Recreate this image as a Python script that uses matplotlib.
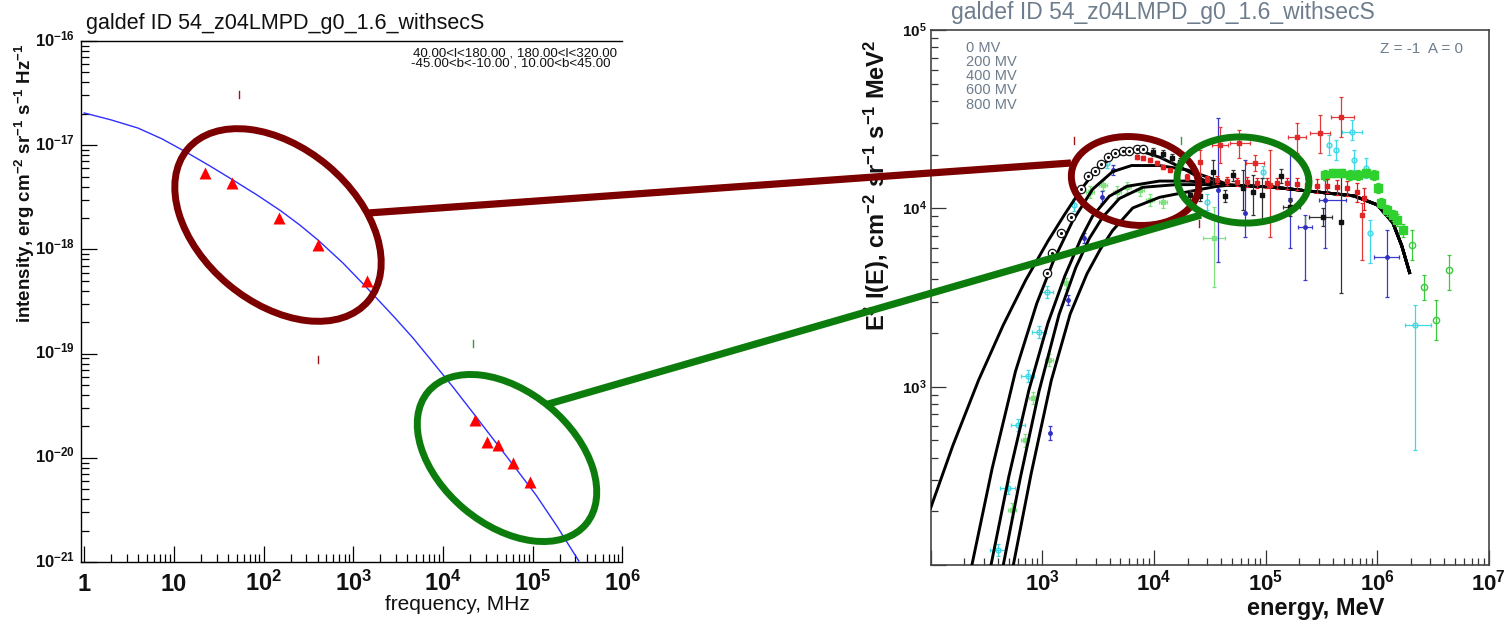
import numpy as np
import matplotlib
matplotlib.use("Agg")
import matplotlib.pyplot as plt
from matplotlib.patches import Ellipse
from matplotlib.ticker import LogLocator, NullFormatter
from matplotlib.transforms import offset_copy

W, H = 1505, 627
plt.rcParams["font.family"] = ["Liberation Sans", "DejaVu Sans"]
plt.rcParams["mathtext.default"] = "regular"

TITLE = "galdef ID 54_z04LMPD_g0_1.6_withsecS"

# ---------------- synchrotron panel ----------------
sync_freq = [22, 45, 150, 408, 1420, 23000, 31000, 41000, 61000, 94000]          # MHz
sync_int = [5.4e-18, 4.3e-18, 2.0e-18, 1.1e-18, 5.0e-19,
            2.3e-20, 1.43e-20, 1.33e-20, 8.9e-21, 5.9e-21]                      # erg cm^-2 sr^-1 s^-1 Hz^-1

model_freq = [1.0, 1.99, 3.98, 7.37, 13.6, 25.3, 45.6, 84.4, 156, 254, 404, 767, 1459,
              2917, 4634, 7345, 12910, 22130, 36980, 61800, 108700, 186200, 327300]
model_int = [2.04e-17, 1.75e-17, 1.46e-17, 1.15e-17, 8.61e-18, 6.31e-18, 4.63e-18,
             3.33e-18, 2.34e-18, 1.71e-18, 1.23e-18, 7.40e-19, 4.17e-19, 2.20e-19,
             1.41e-19, 8.69e-20, 4.78e-20, 2.63e-20, 1.48e-20, 8.34e-21, 4.40e-21,
             2.21e-21, 1.02e-21]

sync_xticks = [1, 10, 1e2, 1e3, 1e4, 1e5, 1e6]
sync_xlabels = ["1", "10", "$10^{2}$", "$10^{3}$", "$10^{4}$", "$10^{5}$", "$10^{6}$"]
sync_yticks = [1e-21, 1e-20, 1e-19, 1e-18, 1e-17, 1e-16]
sync_ylabels = ["$10^{-21}$", "$10^{-20}$", "$10^{-19}$", "$10^{-18}$", "$10^{-17}$", "$10^{-16}$"]

# ---------------- electron spectrum panel ----------------
phi_labels = ["0 MV", "200 MV", "400 MV", "600 MV", "800 MV"]

e_0mv = [100, 158, 269, 447, 708, 1122, 1585, 2239, 3162, 4467, 7079, 11220, 17780, 28180]
j_0mv = [209, 468, 1091, 2218, 3945, 6546, 9247, 12850, 16940, 19820, 21230, 19360, 16870, 14350]
e_200mv = [234, 355, 575, 891, 1259, 1862, 2818, 4266, 6310, 11220, 19950, 35480]
j_200mv = [100, 347, 1219, 2924, 5082, 8453, 12790, 16070, 17380, 17380, 16410, 14450]
e_400mv = [347, 501, 759, 1122, 1585, 2239, 2818, 3981, 5754, 11220, 19950, 35480]
j_400mv = [100, 313, 959, 2270, 4150, 6855, 9036, 11690, 13300, 14220, 14220, 13900]
e_600mv = [447, 631, 933, 1413, 1995, 2630, 3467, 4898, 7943, 15850, 31620]
j_600mv = [100, 302, 940, 2541, 4656, 6761, 8913, 11350, 13120, 13580, 13580]
e_800mv = [550, 794, 1202, 1778, 2512, 3311, 4266, 6457, 11220, 19500, 35480]
j_800mv = [100, 325, 1081, 2559, 4295, 5902, 7516, 10050, 11530, 12330, 13240]
# high-energy part shared by all modulation levels
e_tail = [47860, 112200, 309000, 616600, 1.0e6, 1.38e6, 1.66e6, 1.95e6]
j_tail = [13490, 13180, 12300, 11750, 10470, 8318, 6166, 4365]

# black open circles
circ_E = [1096, 1230, 1479, 1820, 2239, 2570, 2951, 3388, 3890, 4467, 5248, 6026, 7079, 7943]
circ_J = [4365, 5623, 7244, 8913, 12880, 15140, 16220, 17780, 19500, 20420, 20890, 20890, 21380, 21380]

# black squares
blk_E = [9750, 11990, 14420, 17020, 20940, 25700, 33650, 43050, 50820, 62520,
         76740, 92470, 136800, 164800, 325800, 472100]
blk_J = [20700, 20180, 19140, 18200, 11890, 11720, 15990, 11720, 15380, 13000,
         12330, 11890, 15170, 10160, 8933, 8375]
blk_lo = [19600, 19100, 18100, 17200, 11200, 11000, 13520, 10800, 14300, 9772,
          9162, 8375, 13800, 9000, 8000, 3350]
blk_hi = [21800, 21300, 20200, 19200, 12600, 12500, 18660, 12700, 16500, 16410,
          15380, 14790, 16700, 11500, 10000, 15780]
blk_Elo = [9750, 11990, 14420, 17020, 20940, 25700, 33650, 43050, 50820, 62520,
           76740, 92470, 136800, 142600, 243800, 472100]
blk_Ehi = [9750, 11990, 14420, 17020, 20940, 25700, 33650, 43050, 50820, 62520,
           76740, 92470, 136800, 202300, 391700, 472100]

# red dense band
red_E = [7015, 7943, 9170, 10590, 11990, 13870, 16000, 19680, 24210, 29720, 36560, 44870,
         55210, 67920, 83370, 102500, 125900, 154900, 190500, 233900, 287700, 353200,
         434500, 534600, 656100, 758600]
red_J = [19410, 19140, 18660, 17950, 17060, 16410, 15780, 15000, 14790, 14590, 14420, 14220,
         14060, 14060, 13870, 13870, 13870, 13870, 13710, 13520, 13340, 13340,
         13150, 13000, 12330, 11430]
red_relerr = [0.03, 0.03, 0.03, 0.03, 0.03, 0.03, 0.04, 0.04, 0.04, 0.04, 0.05, 0.05, 0.05,
              0.06, 0.06, 0.06, 0.07, 0.07, 0.08, 0.08, 0.09, 0.09, 0.10, 0.10, 0.12, 0.14]

# red points with large uncertainties
redb_E = [25700, 38900, 57540, 79980, 109100, 190500, 306200, 472100, 727800]
redb_J = [18200, 22650, 23230, 17950, 13520, 25120, 26420, 32510, 9162]
redb_lo = [15380, 17950, 19140, 16180, 6902, 20420, 20420, 25120, 5129]
redb_hi = [21230, 28580, 27480, 19910, 21230, 30060, 33340, 42070, 10720]
redb_Elo = [25700, 32960, 47750, 66530, 109100, 158100, 248900, 383700, 727800]
redb_Ehi = [25700, 45810, 72110, 96380, 109100, 229100, 375800, 616600, 727800]

# blue points
blue_E = [1164, 1690, 2350, 3404, 4276, 37330, 65160, 164800, 224400, 338800, 1219000]
blue_J = [550, 3062, 6808, 11560, 16410, 12680, 9419, 11140, 7852, 11140, 5333]
blue_lo = [501, 2871, 6383, 10720, 15380, 5000, 6902, 5984, 3963, 5984, 3184]
blue_hi = [601, 3266, 7261, 12510, 17500, 32060, 18660, 21230, 9162, 14420, 7551]
blue_Elo = [1164, 1690, 2350, 3404, 4276, 37330, 65160, 164800, 194100, 299900, 933300]
blue_Ehi = [1164, 1690, 2350, 3404, 4276, 37330, 65160, 164800, 259400, 523600, 1563000]

# cyan points
cyan_E = [398.1, 489.8, 602.6, 739, 929, 1094, 1910, 3776, 29720, 94410, 368100,
          425600, 591600, 616600, 790700, 859000, 2173000]
cyan_J = [121.3, 269.8, 609.5, 1146, 2023, 3396, 10440, 17950, 10840, 15990, 22650,
          21230, 26790, 18660, 16830, 7261, 2213]
cyan_lo = [112.2, 250, 563.6, 1062, 1875, 3141, 9660, 16830, 9772, 14790, 19910,
           18660, 24150, 16410, 14790, 4932, 440]
cyan_hi = [130.9, 291.7, 657.7, 1239, 2188, 3664, 11270, 19140, 12020, 17260, 25760,
           24150, 31260, 21230, 19140, 8590, 2871]
cyan_Elo = [340, 420, 520, 640, 810, 960, 1910, 3776, 29720, 94410, 368100,
            425600, 482000, 616600, 790700, 859000, 1766000]
cyan_Ehi = [466, 572, 698, 850, 1070, 1250, 1910, 3776, 29720, 94410, 368100,
            425600, 727800, 616600, 790700, 859000, 3020000]

# light green crosses
lgr_E = [532, 695, 820, 1140, 1622, 2661, 3475, 4645, 5702, 7464, 9170, 11990, 34360]
lgr_J = [203, 501, 863, 1409, 3811, 12360, 13520, 12360, 13150, 12680, 11140, 10840, 6808]
lgr_lo = [185, 460, 800, 1300, 3550, 11500, 12600, 11500, 12200, 11700, 10300, 10000, 3622]
lgr_hi = [222, 545, 930, 1530, 4090, 13300, 14500, 13300, 14100, 13700, 12000, 11700, 10160]
lgr_Elo = [490, 640, 755, 1050, 1622, 2450, 3200, 4280, 5250, 6870, 8450, 11000, 27350]
lgr_Ehi = [578, 755, 890, 1240, 1622, 2890, 3770, 5040, 6190, 8100, 9950, 13000, 43050]

# green filled squares
gsq_E = [338800, 399900, 472100, 567500, 669900, 790700, 933300, 1012000, 1077000,
         1219000, 1380000, 1500000, 1694000]
gsq_J = [15380, 15780, 15780, 15380, 15380, 15780, 15380, 13000, 10720, 9772, 9162, 8590, 7551]
gsq_lo = [14500, 14900, 14900, 14500, 14500, 14900, 14500, 12200, 10000, 9100, 8500, 7950, 6950]
gsq_hi = [16300, 16700, 16700, 16300, 16300, 16700, 16300, 13800, 11500, 10500, 9850, 9250, 8200]

# green open circles
gci_E = [2042000, 2618000, 3350000, 4385000]
gci_J = [6223, 3622, 2366, 4508]
gci_lo = [5129, 3062, 1824, 3483]
gci_hi = [7551, 4227, 3062, 5470]

elec_xticks = [1e3, 1e4, 1e5, 1e6, 1e7]
elec_xlabels = ["$10^{3}$", "$10^{4}$", "$10^{5}$", "$10^{6}$", "$10^{7}$"]
elec_yticks = [1e3, 1e4, 1e5]
elec_ylabels = ["$10^{3}$", "$10^{4}$", "$10^{5}$"]

# ---------------- call-out shapes (figure pixels, y downward) ----------------
DARKRED = "#7d0000"
GREEN = "#0c7c0c"
callout_ellipses = [  # colour, centre x, centre y, width, height, angle
    (DARKRED, 278, 225, 236, 155, 40),
    (GREEN, 507, 458, 206, 133, 40),
    (DARKRED, 1135, 181, 128, 88, 8),
    (GREEN, 1243, 180, 132, 86, 3),
]
callout_lines = [
    (DARKRED, (368, 213), (1071, 163)),
    (GREEN, (545, 405), (1201, 215)),
]
small_marks = [
    ("#a01515", 239, 94), ("#a01515", 318, 359), ("#3a9a3a", 473, 343),
    ("#a01515", 1074, 140), ("#3a9a3a", 1181, 140), ("#a01515", 1199, 223),
    ("#3a9a3a", 1305, 220),
]

# ---------------- figure ----------------
fig = plt.figure(figsize=(W / 100, H / 100), dpi=100)


def box(l, t, r, b):
    return [l / W, 1 - b / H, (r - l) / W, (b - t) / H]


def fpos(x, y):
    return x / W, 1 - y / H


def setup_log_axes(ax, xlim, ylim, major_len, minor_len, color):
    ax.set_xscale("log")
    ax.set_yscale("log")
    ax.set_xlim(*xlim)
    ax.set_ylim(*ylim)
    for axis in (ax.xaxis, ax.yaxis):
        axis.set_major_locator(LogLocator(base=10, numticks=30))
        axis.set_minor_locator(LogLocator(base=10, subs=np.arange(2, 10), numticks=30))
        axis.set_major_formatter(NullFormatter())
        axis.set_minor_formatter(NullFormatter())
    ax.tick_params(which="both", direction="in", top=False, right=False,
                   labelbottom=False, labelleft=False, color=color, width=0.9)
    ax.tick_params(which="major", length=major_len)
    ax.tick_params(which="minor", length=minor_len)


def errpts(ax, E, J, lo, hi, Elo=None, Ehi=None, **kw):
    E = np.asarray(E, float)
    J = np.asarray(J, float)
    yerr = [J - np.asarray(lo, float), np.asarray(hi, float) - J]
    xerr = None
    if Elo is not None:
        xerr = [E - np.asarray(Elo, float), np.asarray(Ehi, float) - E]
    ax.errorbar(E, J, yerr=yerr, xerr=xerr, **kw)


# ---- left: synchrotron intensity vs frequency
axL = fig.add_axes(box(81, 41, 622.4, 562))
setup_log_axes(axL, (0.921, 1e6), (1e-21, 1e-16), 11.5, 5.8, "black")
for s in axL.spines.values():
    s.set_linewidth(1.0)
axL.spines["right"].set_visible(False)
axL.plot(model_freq, model_int, color="#2f2fff", lw=1.0, zorder=3)
axL.plot(sync_freq, sync_int, "^", color="#ff0000", ms=8, mec="none", zorder=4)

tx = offset_copy(axL.get_xaxis_transform(), fig=fig, y=-29, units="dots")
for v, s in zip(sync_xticks, sync_xlabels):
    axL.text(v, 0, s, transform=tx, ha="center", va="baseline",
             fontsize=17, fontweight="bold", color="#111111")
ty = offset_copy(axL.get_yaxis_transform(), fig=fig, x=-6, y=-5, units="dots")
for v, s in zip(sync_yticks, sync_ylabels):
    axL.text(0, v, s, transform=ty, ha="right", va="baseline",
             fontsize=12, fontweight="bold", color="#111111")

fig.text(*fpos(86, 29), TITLE, ha="left", va="baseline", fontsize=15.5, color="#111111")
fig.text(*fpos(413, 53), "40.00<l<180.00 , 180.00<l<320.00", ha="left", va="center",
         fontsize=9.6, color="#111111")
fig.text(*fpos(411, 64), "-45.00<b<-10.00 , 10.00<b<45.00", ha="left", va="center",
         fontsize=9.6, color="#111111")
fig.text(*fpos(25, 183), "intensity, erg cm$^{-2}$ sr$^{-1}$ s$^{-1}$ Hz$^{-1}$",
         rotation=90, ha="center", va="center", fontsize=13.5, fontweight="bold",
         color="#111111")
fig.text(*fpos(457, 604), "frequency, MHz", ha="center", va="center", fontsize=15,
         color="#111111")

# ---- right: electron spectrum
axR = fig.add_axes(box(930.7, 30, 1488.8, 565))
setup_log_axes(axR, (1e2, 1e7), (1e2, 1e5), 10.5, 5.0, "#333333")
for s in axR.spines.values():
    s.set_linewidth(1.2)
    s.set_color("#444444")

for e, j in [(e_0mv, j_0mv), (e_200mv, j_200mv), (e_400mv, j_400mv),
             (e_600mv, j_600mv), (e_800mv, j_800mv)]:
    axR.plot(list(e) + e_tail, list(j) + j_tail, color="black", lw=2.1, zorder=3,
             solid_joinstyle="round")

ebk = dict(elinewidth=0.9, capsize=1.6, capthick=0.9, linestyle="none")
errpts(axR, lgr_E, lgr_J, lgr_lo, lgr_hi, lgr_Elo, lgr_Ehi, fmt="s", ms=2.5,
       color="#7ee27e", ecolor="#7ee27e", zorder=2, **ebk)
errpts(axR, cyan_E, cyan_J, cyan_lo, cyan_hi, cyan_Elo, cyan_Ehi, fmt="o", ms=3.5,
       mfc="none", mec="#40d8e6", color="#40d8e6", ecolor="#40d8e6", zorder=2, **ebk)
errpts(axR, blue_E, blue_J, blue_lo, blue_hi, blue_Elo, blue_Ehi, fmt="o", ms=2.5,
       color="#3030c0", ecolor="#3a3acc", zorder=2, **ebk)
errpts(axR, gsq_E, gsq_J, gsq_lo, gsq_hi, fmt="s", ms=5.5, color="#2ed12e",
       ecolor="#2ed12e", zorder=4, **ebk)
errpts(axR, gci_E, gci_J, gci_lo, gci_hi, fmt="o", ms=4.5, mfc="none", mec="#3cc83c",
       color="#3cc83c", ecolor="#3cc83c", zorder=4, **ebk)
errpts(axR, blk_E, blk_J, blk_lo, blk_hi, blk_Elo, blk_Ehi, fmt="s", ms=2.5,
       color="#111111", ecolor="#333333", zorder=4, **ebk)
red_E_arr = np.asarray(red_E, float)
red_J_arr = np.asarray(red_J, float)
red_err = red_J_arr * np.asarray(red_relerr)
axR.errorbar(red_E_arr, red_J_arr, yerr=red_err, fmt="s", ms=3.0, color="#e02020",
             ecolor="#e02020", zorder=5, **ebk)
errpts(axR, redb_E, redb_J, redb_lo, redb_hi, redb_Elo, redb_Ehi, fmt="s", ms=3.0,
       color="#e02a2a", ecolor="#e03a3a", zorder=4, **ebk)
axR.plot(circ_E, circ_J, "o", ms=6, mfc="white", mec="#111111", mew=0.9, zorder=6)
axR.plot(circ_E, circ_J, ".", ms=2.5, color="#111111", zorder=7)

tx = offset_copy(axR.get_xaxis_transform(), fig=fig, y=-25, units="dots")
for v, s in zip(elec_xticks, elec_xlabels):
    axR.text(v, 0, s, transform=tx, ha="center", va="baseline",
             fontsize=16, fontweight="bold", color="#111111")
ty = offset_copy(axR.get_yaxis_transform(), fig=fig, x=-4, y=-7, units="dots")
for v, s in zip(elec_yticks, elec_ylabels):
    axR.text(0, v, s, transform=ty, ha="right", va="baseline",
             fontsize=11, fontweight="bold", color="#111111")

GREY = "#6d7d8d"
fig.text(*fpos(1163, 13), TITLE, ha="center", va="center", fontsize=16.5, color=GREY)
for i, lab in enumerate(phi_labels):
    fig.text(*fpos(966, 47.5 + 14.3 * i), lab, ha="left", va="center",
             fontsize=10.5, color=GREY)
fig.text(*fpos(1380, 49), "Z = -1  A = 0", ha="left", va="center", fontsize=11, color=GREY)
fig.text(*fpos(877, 185), "E$^{3}$ I(E), cm$^{-2}$ sr$^{-1}$ s$^{-1}$ MeV$^{2}$",
         rotation=90, ha="center", va="center", fontsize=17, fontweight="bold",
         color="#111111")
fig.text(*fpos(1316, 609), "energy, MeV", ha="center", va="center", fontsize=17,
         fontweight="bold", color="#111111")

# ---- call-out overlay in figure pixels
ov = fig.add_axes([0, 0, 1, 1], zorder=20)
ov.set_xlim(0, W)
ov.set_ylim(H, 0)
ov.axis("off")
ov.patch.set_alpha(0)
for c, x0, y0 in small_marks:
    ov.plot([x0, x0], [y0 - 3.5, y0 + 3.5], color=c, lw=1.0)
for c, (xa, ya), (xb, yb) in callout_lines:
    ov.plot([xa, xb], [ya, yb], color=c, lw=5.2, solid_capstyle="butt")
for c, cx, cy, w, h, ang in callout_ellipses:
    ov.add_patch(Ellipse((cx, cy), w, h, angle=ang, fill=False, ec=c, lw=5.0))

fig.savefig("out.png", dpi=100)
